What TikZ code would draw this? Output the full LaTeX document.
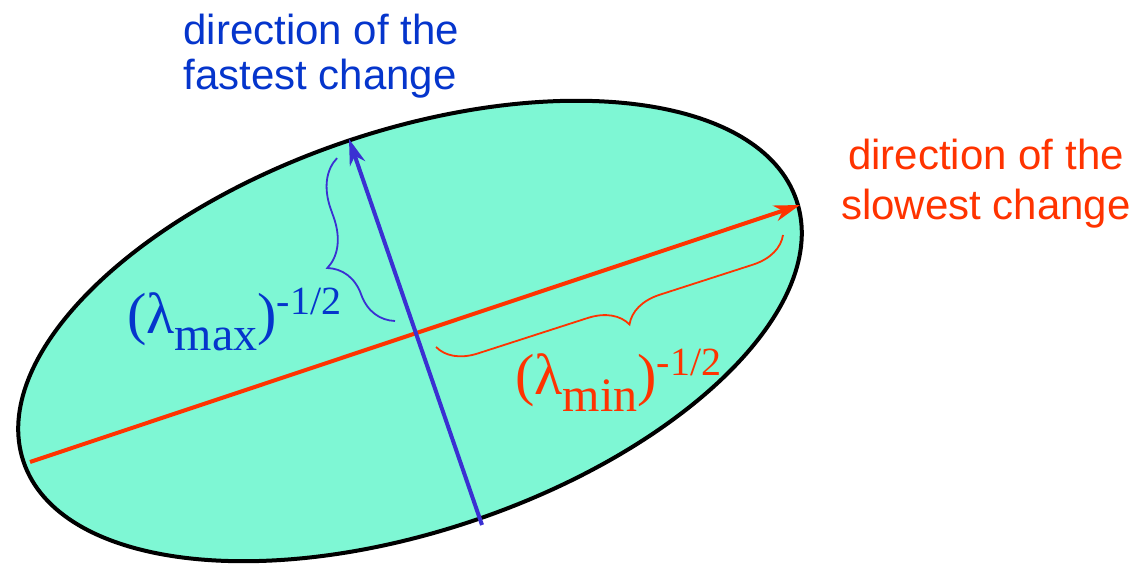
\documentclass[tikz,border=0pt]{standalone}
\usepackage{fontspec}
\setmainfont{Liberation Sans}
\newfontfamily\fuenteGriega{Liberation Serif}
\usetikzlibrary{arrows.meta,decorations.pathreplacing}
\definecolor{catAguamarina}{HTML}{7EF7D4}
\definecolor{catAzulVioleta}{HTML}{3A30D2}
\definecolor{catAzulRey}{HTML}{0535CC}
\definecolor{catRojoNaranja}{HTML}{FF3300}
\colorlet{colElipse}{catAguamarina}
\colorlet{colRapido}{catAzulVioleta}
\colorlet{colTextoRapido}{catAzulRey}
\colorlet{colLento}{catRojoNaranja}
\newcommand{\potLambda}[1]{{\fuenteGriega\fontsize{29}{29}\selectfont(λ\raisebox{-8.5pt}{\fontsize{24}{24}\selectfont #1})\raisebox{9.5pt}{\fontsize{20}{20}\selectfont -1/2}}}

\begin{document}
\begin{tikzpicture}[x=0.5pt, y=0.5pt,
        eje/.style={line width=2pt},
        flecha/.style={eje, -{Stealth[length=13pt, width=8pt, inset=4pt]}},
        llave/.style={decorate, line width=0.9pt},
        direccion/.style={font={\fontsize{21}{#1}\selectfont}, inner sep=0pt},
        expo/.style={anchor=base west, inner sep=0pt}
    ]
        \useasboundingbox (0,0) rectangle (1138,565);

        % elipse y ejes
        \coordinate (centro) at (410,234);
        \draw[line width=2pt, fill=colElipse, rotate around={18.7:(centro)}]
            (centro) ellipse [x radius=408, y radius=200];

        \coordinate (lentoIni) at (30,103);
        \coordinate (lentoFin) at (800,360);
        \coordinate (rapidoIni) at (482,40);
        \coordinate (rapidoFin) at (349,426);
        \draw[flecha, colLento] (lentoIni) -- (lentoFin);
        \draw[flecha, colRapido] (rapidoIni) -- (rapidoFin);

        % llaves
        \coordinate (llaveRapA) at (395,244);
        \coordinate (llaveRapB) at (337,407);
        \coordinate (llaveLenA) at (783,330);
        \coordinate (llaveLenB) at (436,218);
        \draw[llave, colRapido, decoration={brace, amplitude=23pt, aspect=0.42}] (llaveRapA) -- (llaveRapB);
        \draw[llave, colLento, decoration={brace, amplitude=19pt, aspect=0.476}] (llaveLenA) -- (llaveLenB);

        % textos (base = linea inferior)
        \node[direccion=22.5, text=colTextoRapido, align=left, anchor=base west] (txtRapido) at (183,475)
            {direction of the\\fastest change};
        \node[direccion=25, text=colLento, align=center, anchor=base] (txtLento) at (986,345)
            {direction of the\\slowest change};
        \node[expo, text=colTextoRapido] (lamMax) at (127,231) {\potLambda{max}};
        \node[expo, text=colLento] (lamMin) at (515,170) {\potLambda{min}};
    \end{tikzpicture}
\end{document}
